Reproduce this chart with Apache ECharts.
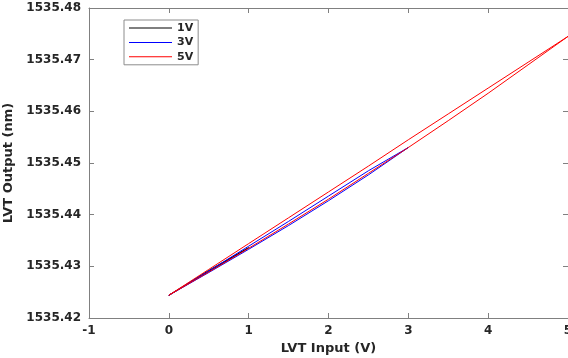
<!DOCTYPE html>
<html>
<head>
<meta charset="utf-8">
<script src="https://cdn.jsdelivr.net/npm/echarts@6/dist/echarts.min.js"></script>
<style>html,body{margin:0;padding:0;background:#fff;}#c{width:568px;height:358px;}</style>
</head>
<body>
<div id="c"></div>
<script>
// Loop data: voltage steps, rising branch (lower) and falling branch (upper)
const x1V = [0, 0.5, 1];
const up1V = [1535.4244, 1535.4290, 1535.4336];
const down1V = [1535.4244, 1535.4292, 1535.4336];

const x3V = [0, 0.5, 1, 1.5, 2, 2.5, 3];
const up3V = [1535.4244, 1535.4288, 1535.4333, 1535.4379, 1535.4427, 1535.4477, 1535.4530];
const down3V = [1535.4244, 1535.4291, 1535.4339, 1535.4387, 1535.4436, 1535.4485, 1535.4530];

const x5V = [0, 0.5, 1, 1.5, 2, 2.5, 3, 3.5, 4, 4.5, 5];
const up5V = [1535.4244, 1535.4289, 1535.4335, 1535.4382, 1535.4430, 1535.4480, 1535.4530, 1535.4582, 1535.4635, 1535.4690, 1535.4745];
const down5V = [1535.4244, 1535.4294, 1535.4344, 1535.4394, 1535.4444, 1535.4494, 1535.4545, 1535.4595, 1535.4645, 1535.4695, 1535.4745];

const seriesNames = ['1V', '3V', '5V'];
const seriesColors = ['#000000', '#0000ff', '#ff0000'];
const xTicks = [-1, 0, 1, 2, 3, 4, 5];
const yTicks = [1535.42, 1535.43, 1535.44, 1535.45, 1535.46, 1535.47, 1535.48];

function loop(xs, up, down) {
  const d = [];
  for (let i = 0; i < xs.length; i++) d.push([xs[i], up[i]]);
  for (let i = xs.length - 1; i >= 0; i--) d.push([xs[i], down[i]]);
  return d;
}
const loops = [loop(x1V, up1V, down1V), loop(x3V, up3V, down3V), loop(x5V, up5V, down5V)];

const axisCol = '#808080';
const txtCol = '#262626';
const font = 'DejaVu Sans, sans-serif';

const chart = echarts.init(document.getElementById('c'), null, {renderer: 'canvas'});
chart.setOption({
  animation: false,
  backgroundColor: '#ffffff',
  grid: {left: 89, top: 8, width: 479, height: 310, containLabel: false, outerBoundsMode: 'none'},
  legend: {
    data: seriesNames,
    orient: 'vertical',
    left: 124, top: 20,
    padding: [2, 5, 2, 5],
    icon: 'rect',
    itemWidth: 43, itemHeight: 1, itemGap: 2.4, itemSymbolKeepAspect: false,
    backgroundColor: '#fff',
    borderColor: '#8c8c8c', borderWidth: 1, borderRadius: 0,
    textStyle: {fontFamily: font, fontWeight: 'bold', fontSize: 11, color: txtCol, lineHeight: 12, height: 12}
  },
  xAxis: [{
    type: 'value', min: xTicks[0], max: xTicks[xTicks.length-1], interval: 1,
    name: 'LVT Input (V)', nameLocation: 'middle', nameGap: 24,
    nameTextStyle: {fontFamily: font, fontWeight: 'bold', fontSize: 13, color: txtCol},
    axisLine: {onZero: false, lineStyle: {color: axisCol, width: 1}},
    axisTick: {inside: true, length: 5, lineStyle: {color: axisCol}},
    axisLabel: {fontFamily: font, fontWeight: 'bold', fontSize: 12, color: txtCol, margin: 7},
    splitLine: {show: false}
  }, {
    type: 'value', position: 'top', min: xTicks[0], max: xTicks[xTicks.length-1], interval: 1,
    axisLine: {onZero: false, lineStyle: {color: axisCol, width: 1}},
    axisTick: {inside: true, length: 5, lineStyle: {color: axisCol}},
    axisLabel: {show: false}, splitLine: {show: false}
  }],
  yAxis: [{
    type: 'value', min: yTicks[0], max: yTicks[yTicks.length-1], interval: 0.01,
    name: 'LVT Output (nm)', nameLocation: 'middle', nameGap: 72,
    nameTextStyle: {fontFamily: font, fontWeight: 'bold', fontSize: 13, color: txtCol},
    axisLine: {onZero: false, lineStyle: {color: axisCol, width: 1}},
    axisTick: {inside: true, length: 5, lineStyle: {color: axisCol}},
    axisLabel: {fontFamily: font, fontWeight: 'bold', fontSize: 12, color: txtCol, margin: 8,
      formatter: v => v.toFixed(2)},
    splitLine: {show: false}
  }, {
    type: 'value', position: 'right', min: yTicks[0], max: yTicks[yTicks.length-1], interval: 0.01,
    axisLine: {onZero: false, lineStyle: {color: axisCol, width: 1}},
    axisTick: {inside: true, length: 5, lineStyle: {color: axisCol}},
    axisLabel: {show: false}, splitLine: {show: false}
  }],
  series: seriesNames.map((n, i) => ({
    name: n, type: 'line', data: loops[i], symbol: 'none',
    lineStyle: {color: seriesColors[i], width: 1},
    itemStyle: {color: seriesColors[i]},
    z: 2 + i
  }))
});
</script>
</body>
</html>
